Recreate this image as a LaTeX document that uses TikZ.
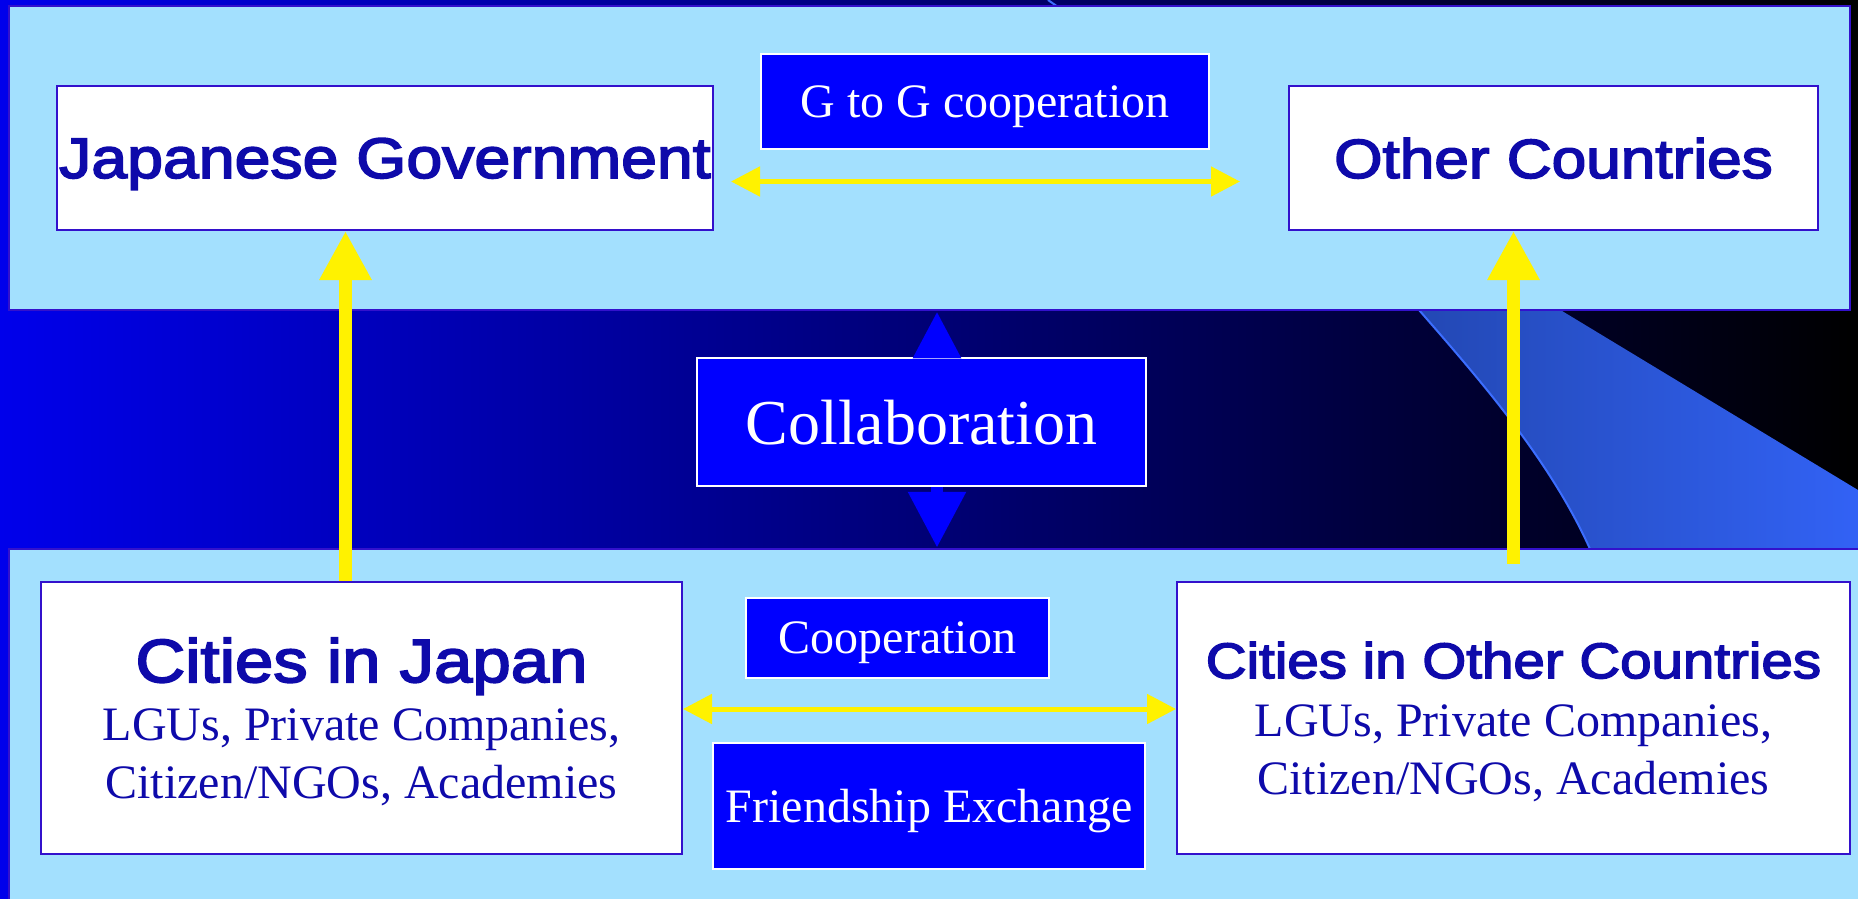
\documentclass[tikz,border=0pt]{standalone}
\usepackage{fontspec}
\setmainfont{Liberation Serif}
\setsansfont[FakeStretch=1.13, FakeBold=3]{Liberation Sans}
\usepackage{xcolor}
\usepackage{tikz}
\usetikzlibrary{arrows, arrows.meta}
\pgfdeclarelayer{bg}
\pgfsetlayers{bg,main}
\definecolor{panelblue}{RGB}{163,224,254}
\definecolor{edgeblue}{RGB}{51,17,204}
\definecolor{inkblue}{RGB}{14,10,170}
\definecolor{boxblue}{RGB}{0,0,255}
\definecolor{bandleft}{RGB}{0,0,235}
\definecolor{swleft}{RGB}{22,50,125}
\definecolor{swright}{RGB}{50,98,245}
\definecolor{swedge}{RGB}{60,110,255}

\begin{document}
\begin{tikzpicture}[x=1pt, y=-1pt,
		panel/.style={draw=edgeblue, line width=2.5pt, fill=panelblue, inner sep=0pt},
		govbox/.style={draw=edgeblue, line width=2pt, fill=white, text=inkblue, inner sep=0pt, minimum height=144pt, text depth=0pt, font=\sffamily\fontsize{57}{60}\selectfont},
		citybox/.style={draw=edgeblue, line width=2pt, fill=white, text=inkblue, inner sep=0pt, minimum height=272pt, align=center, text depth=0pt, font=\fontsize{48}{58}\selectfont},
		tagbox/.style={draw=white, line width=2pt, fill=boxblue, text=white, inner sep=0pt, text depth=0pt, font=\fontsize{48}{58}\selectfont},
		yarrow/.style={draw=yellow, line width=13pt, -{Triangle[width=49pt, length=49pt]}},
		ydarrow/.style={draw=yellow, line width=5pt, {Triangle[width=29pt, length=29pt]}-{Triangle[width=29pt, length=29pt]}},
		cup/.style={draw=boxblue, line width=12pt, -{Triangle[width=45pt, length=47pt]}},
		cdown/.style={draw=boxblue, line width=12pt, -{Triangle[width=55pt, length=56pt]}}]
	\useasboundingbox (0,0) rectangle (1858,898);
	\begin{pgfonlayer}{bg}
		\shade[left color=bandleft, right color=black] (0,0) rectangle (1858,898);
		\shade[left color=swleft, right color=swright] (1048,0) .. controls (1250,140) and (1370,254) .. (1419,310)
			.. controls (1480,380) and (1550,460) .. (1590,549) -- (1858,549) -- (1858,490) -- cycle;
		\draw[swedge, line width=2pt] (1048,0) .. controls (1250,140) and (1370,254) .. (1419,310)
			.. controls (1480,380) and (1550,460) .. (1590,549);
		\node[panel, minimum width=1841pt, minimum height=304pt] (tp) at (929.5,158) {};
		\node[panel, minimum width=1861pt, minimum height=361pt] (bp) at (939.5,729.5) {};
	\end{pgfonlayer}
	
	\node[govbox, minimum width=656pt] (jg) at (385,158) {Japanese Government};
	\node[govbox, minimum width=529pt, font=\sffamily\fontsize{55}{60}\selectfont] (oc) at (1553.5,158) {Other Countries};
	\node[tagbox, minimum width=448pt, minimum height=95pt] (gg) at (985,101.5) {G to G cooperation};
	\node[tagbox, minimum width=449pt, minimum height=128pt, font=\fontsize{64}{70}\selectfont] (collab) at (921.5,422) {Collaboration};
	\node[citybox, minimum width=641pt] (cj) at (361.5,718) {{\sffamily\fontsize{61}{58}\selectfont Cities in Japan}\\LGUs, Private Companies,\\Citizen/NGOs, Academies};
	\node[citybox, minimum width=673pt] (cco) at (1513.5,718) {{\sffamily\fontsize{50}{58}\selectfont Cities in Other Countries}\\LGUs, Private Companies,\\Citizen/NGOs, Academies};
	\node[tagbox, minimum width=303pt, minimum height=80pt] (coop) at (897.5,638) {Cooperation};
	\node[tagbox, minimum width=432pt, minimum height=126pt] (fe) at (929,806) {Friendship Exchange};
	
	\draw[ydarrow] ([xshift=17pt, yshift=-23.5pt]jg.east) -- ([xshift=-48pt, yshift=-23.5pt]oc.west);
	\draw[ydarrow] ([yshift=9pt]cj.east) -- ([yshift=9pt]cco.west);
	\draw[yarrow] ([xshift=-16pt]cj.north) -- ([xshift=-39.5pt]jg.south);
	\draw[yarrow] ([yshift=17pt]cco.north) -- ([xshift=-40pt]oc.south);
	
	\coordinate (cu) at ([xshift=15.5pt]collab.north);
	\coordinate (cd) at ([xshift=15.5pt]collab.south);
	\draw[cup] (cu) -- (cu |- tp.south);
	\draw[cdown] (cd) -- (cd |- bp.north);
\end{tikzpicture}
\end{document}
